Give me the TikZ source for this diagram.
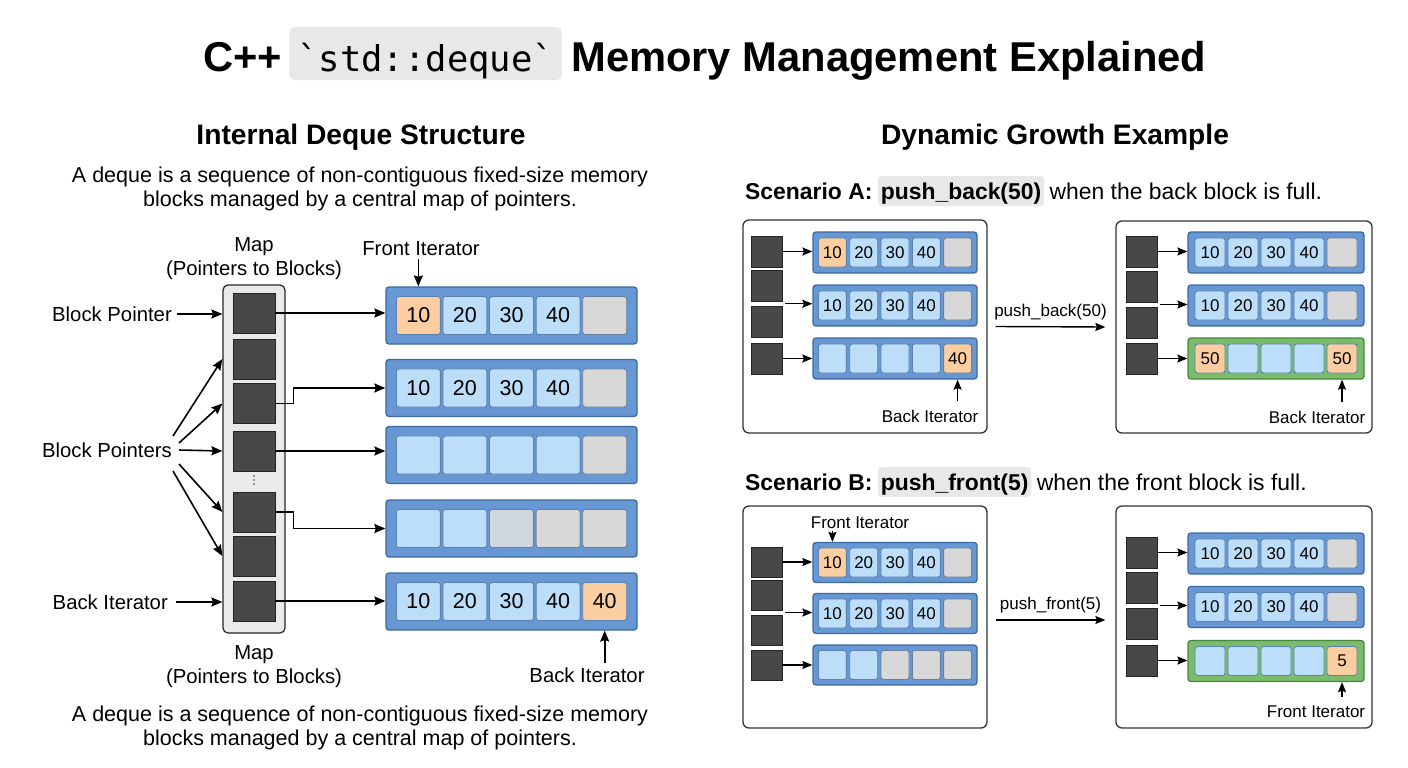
\documentclass[tikz,border=0pt]{standalone}
\usepackage{fontspec}
\setmainfont{Liberation Sans}
\setmonofont{DejaVu Sans Mono}
\usetikzlibrary{arrows.meta,calc}

\definecolor{blkfill}{RGB}{104,152,212}
\definecolor{blkdraw}{RGB}{62,104,160}
\definecolor{cellblue}{RGB}{188,222,248}
\definecolor{celldraw}{RGB}{92,130,178}
\definecolor{cellorange}{RGB}{250,206,160}
\definecolor{cellgray}{RGB}{216,216,216}
\definecolor{cellgrayb}{RGB}{208,214,224}
\definecolor{grnfill}{RGB}{122,188,108}
\definecolor{grndraw}{RGB}{70,135,60}
\definecolor{sqfill}{RGB}{72,72,72}
\definecolor{sqdraw}{RGB}{35,35,35}
\definecolor{mapfill}{RGB}{234,234,234}
\definecolor{codebg}{RGB}{232,232,232}

\tikzset{
 blk/.style={draw=blkdraw, fill=blkfill, line width=1.3pt, rounded corners=3pt, inner sep=0},
 gblk/.style={draw=grndraw, fill=grnfill, line width=1.3pt, rounded corners=3pt, inner sep=0},
 cb/.style={draw=celldraw, fill=cellblue, line width=0.9pt, rounded corners=2.5pt, inner sep=0},
 co/.style={cb, fill=cellorange},
 cg/.style={cb, fill=cellgray, draw=celldraw!60!gray},
 cgb/.style={cb, fill=cellgrayb},
 sq/.style={draw=sqdraw, fill=sqfill, line width=0.9pt, inner sep=0},
 arr/.style={-{Stealth[length=11pt,width=9pt,inset=1.5pt]}, line width=1.6pt, black},
 sarr/.style={-{Stealth[length=10pt,width=8pt,inset=1.5pt]}, line width=1.4pt, black},
 panel/.style={draw=black!80, line width=1.3pt, rounded corners=6pt, fill=white, inner sep=0},
 lbl/.style={font=\fontsize{20.3}{24}\selectfont, inner sep=0},
 slbl/.style={font=\fontsize{17}{19}\selectfont, inner sep=0},
 ttl/.style={font=\bfseries\fontsize{41.7}{50}\selectfont, inner sep=0},
 codettl/.style={fill=codebg, rounded corners=5pt, font=\ttfamily\fontsize{35.5}{40}\selectfont, inner xsep=8pt, inner ysep=6pt, text height=38pt, text depth=3pt},
 hdg/.style={font=\bfseries\fontsize{28.2}{32}\selectfont, inner sep=0},
 dsc/.style={font=\fontsize{21.5}{23.5}\selectfont, align=center, inner sep=0},
 scn/.style={font=\fontsize{22.9}{26}\selectfont, inner sep=0},
 codehl/.style={scn, fill=codebg, rounded corners=4pt, inner xsep=3pt, inner ysep=5pt, text height=18pt, text depth=2pt},
}

\newcommand\geomL{\def\dqbw{251}\def\dqbh{57}\def\dqcw{44}\def\dqch{38}\def\dqcp{46.6}\def\dqcf{\fontsize{21.5}{22}\selectfont}}
\newcommand\geomS{\def\dqbw{164}\def\dqbh{41}\def\dqcw{28}\def\dqch{29}\def\dqcp{31.3}\def\dqcf{\fontsize{17}{18}\selectfont}}
\newcommand\geomT{\def\dqbw{176}\def\dqbh{41}\def\dqcw{30}\def\dqch{29}\def\dqcp{33}\def\dqcf{\fontsize{17}{18}\selectfont}}

\newcommand\drawblock[5]{%
 \node[#4, minimum width=\dqbw pt, minimum height=\dqbh pt] (#1) at (#2,#3) {};
 \foreach \st/\tx [count=\i] in {#5} {
   \node[style=\st, minimum width=\dqcw pt, minimum height=\dqch pt, font=\dqcf] (#1-\i) at ($(#1.center)+({(\i-3)*\dqcp},0)$) {\tx};
 }}

\begin{document}
\begin{tikzpicture}[x=1pt,y=-1pt]
\useasboundingbox (0,0) rectangle (1408,768);
\fill[white] (0,0) rectangle (1408,768);

% ---- title
\node[ttl, anchor=base west] (t1) at (203,71) {C++};
\node[codettl, anchor=base west] (t2) at ($(t1.base east)+(7,0)$) {`std::deque`};
\node[ttl, anchor=base west] (t3) at ($(t2.base east)+(9,0)$) {Memory Management Explained};

% ---- headings
\node[hdg] (h1) at (361,137) {Internal Deque Structure};
\node[hdg] (h2) at (1055,137) {Dynamic Growth Example};
\node[dsc] (d1) at (360,189) {A deque is a sequence of non-contiguous fixed-size memory\\blocks managed by a central map of pointers.};
\node[dsc] (d2) at (360,728) {A deque is a sequence of non-contiguous fixed-size memory\\blocks managed by a central map of pointers.};

% ---- map
\node[lbl, align=center] (mapT) at (254,259) {Map\\(Pointers to Blocks)};
\node[lbl, align=center] (mapB) at (254,667) {Map\\(Pointers to Blocks)};
\node[draw=black!85, fill=mapfill, rounded corners=5pt, minimum width=62pt, minimum height=348pt, line width=1.2pt] (map) at (254,459) {};
\foreach \n/\yy in {1/313,2/359,3/403.5,4/451,5/512,6/556,7/601}
  \node[sq, minimum width=42pt, minimum height=40pt] (m\n) at (254,\yy) {};
\foreach \yy in {476,480,484} \fill[black!70] (254,\yy) circle (0.9pt);

% ---- left blocks
\geomL
\drawblock{b1}{511.5}{315.5}{blk}{co/10,cb/20,cb/30,cb/40,cg/{}}
\drawblock{b2}{511.5}{388}{blk}{cb/10,cb/20,cb/30,cb/40,cg/{}}
\drawblock{b3}{511.5}{455}{blk}{cb/{},cb/{},cb/{},cb/{},cg/{}}
\drawblock{b4}{511.5}{528.5}{blk}{cb/{},cb/{},cgb/{},cg/{},cg/{}}
\drawblock{b5}{511.5}{601.5}{blk}{cb/10,cb/20,cb/30,cb/40,co/40}

\draw[arr] (m1.east) -- (m1.east -| b1.west);
\draw[arr] (m3.east) -- ++(18,0) |- (b2.west);
\draw[arr] (m4.east) -- (m4.east -| b3.west);
\draw[arr] (m5.east) -- ++(18,0) |- (b4.west);
\draw[arr] (m7.east) -- (m7.east -| b5.west);

% ---- left labels
\node[lbl, anchor=east] (lBP) at (172,314) {Block Pointer};
\draw[arr] ($(lBP.east)+(5,0)$) -- (lBP.east -| map.west);
\node[lbl, anchor=east] (lBPs) at (172,450) {Block Pointers};
\draw[arr] ($(lBPs.east)+(1,-14)$) -- (map.west |- m2);
\draw[arr] ($(lBPs.east)+(7,-7)$) -- (map.west |- m3);
\draw[arr] ($(lBPs.east)+(7,0)$) -- (map.west |- m4);
\draw[arr] ($(lBPs.east)+(7,14)$) -- (map.west |- m5);
\draw[arr] ($(lBPs.east)+(1,21)$) -- (map.west |- m6);
\node[lbl, anchor=east] (lBI) at (168,602) {Back Iterator};
\draw[arr] ($(lBI.east)+(8,0)$) -- (lBI.east -| map.west);

\node[lbl] (fi) at (421,249) {Front Iterator};
\draw[arr] ($(fi.south -| b1-1)+(0,3)$) -- (b1-1 |- b1.north);
\node[lbl] (bi) at (587,675) {Back Iterator};
\draw[arr] ($(bi.north -| b5-5)+(0,-4)$) -- (b5-5 |- b5.south);

% ---- scenario headers
\node[scn, anchor=base west] (sa1) at (745,199) {\bfseries Scenario A:};
\node[codehl, anchor=base west] (sa2) at ($(sa1.base east)+(5,0)$) {\bfseries push\_back(50)};
\node[scn, anchor=base west] (sa3) at ($(sa2.base east)+(5,0)$) {when the back block is full.};
\node[scn, anchor=base west] (sb1) at (745,490) {\bfseries Scenario B:};
\node[codehl, anchor=base west] (sb2) at ($(sb1.base east)+(5,0)$) {\bfseries push\_front(5)};
\node[scn, anchor=base west] (sb3) at ($(sb2.base east)+(5,0)$) {when the front block is full.};

% ---- panels
\node[panel, minimum width=244pt, minimum height=213pt] (pA1) at (865,326.5) {};
\node[panel, minimum width=256pt, minimum height=212pt] (pA2) at (1244,327) {};
\node[panel, minimum width=244pt, minimum height=222pt] (pB1) at (865,617) {};
\node[panel, minimum width=256pt, minimum height=222pt] (pB2) at (1244,617) {};

\draw[sarr] ($(pA1.east)+(8,0)$) -- ($(pA2.west)+(-10,0)$) node[midway, above=6pt, slbl] (ta) {push\_back(50)};
\draw[sarr] ($(pB1.east)+(8,3)$) -- ($(pB2.west)+(-10,3)$) node[midway, above=6pt, slbl] (tb) {push\_front(5)};

% ---- panel A1
\foreach \n/\yy in {1/251.5,2/285.5,3/322,4/358.5}
  \node[sq, minimum size=31pt] (a1m\n) at (766.5,\yy) {};
\geomS
\drawblock{a1b1}{895}{252.5}{blk}{co/10,cb/20,cb/30,cb/40,cg/{}}
\drawblock{a1b2}{895}{305.5}{blk}{cb/10,cb/20,cb/30,cb/40,cg/{}}
\drawblock{a1b3}{895}{358.5}{blk}{cb/{},cb/{},cb/{},cb/{},co/40}
\draw[sarr] (a1m1.east) -- (a1m1.east -| a1b1.west);
\coordinate (a1mid) at ($(a1m2.south east)!0.5!(a1m3.north east)+(3,0)$);
\draw[sarr] (a1mid) -- (a1mid -| a1b2.west);
\draw[sarr] (a1m4.east) -- (a1m4.east -| a1b3.west);
\node[slbl] (a1bi) at (930,416) {Back Iterator};
\draw[sarr] ($(a1bi.north -| a1b3-5)+(0,-9)$) -- (a1b3-5 |- a1b3.south);

% ---- panel A2
\foreach \n/\yy in {1/251.5,2/286.5,3/322.5,4/358.5}
  \node[sq, minimum size=31pt] (a2m\n) at (1141.5,\yy) {};
\geomT
\drawblock{a2b1}{1276}{252.5}{blk}{cb/10,cb/20,cb/30,cb/40,cg/{}}
\drawblock{a2b2}{1276}{305.5}{blk}{cb/10,cb/20,cb/30,cb/40,cg/{}}
\drawblock{a2b3}{1276}{358.5}{gblk}{co/50,cb/{},cb/{},cb/{},co/50}
\draw[sarr] (a2m1.east) -- (a2m1.east -| a2b1.west);
\coordinate (a2mid) at ($(a2m2.south east)!0.5!(a2m3.north east)+(3,0)$);
\draw[sarr] (a2mid) -- (a2mid -| a2b2.west);
\draw[sarr] (a2m4.east) -- (a2m4.east -| a2b3.west);
\node[slbl] (a2bi) at (1317,417) {Back Iterator};
\draw[sarr] ($(a2bi.north -| a2b3-5)+(0,-9)$) -- (a2b3-5 |- a2b3.south);

% ---- panel B1
\foreach \n/\yy in {1/562,2/595,3/630,4/665}
  \node[sq, minimum width=31pt, minimum height=30pt] (b1m\n) at (766.5,\yy) {};
\geomS
\def\dqbh{40}
\drawblock{c1b1}{895}{562.5}{blk}{co/10,cb/20,cb/30,cb/40,cg/{}}
\drawblock{c1b2}{895}{613.5}{blk}{cb/10,cb/20,cb/30,cb/40,cg/{}}
\drawblock{c1b3}{895}{665}{blk}{cb/{},cb/{},cg/{},cg/{},cg/{}}
\draw[sarr] (b1m1.east) -- (b1m1.east -| c1b1.west);
\coordinate (b1mid) at ($(b1m2.south east)!0.5!(b1m3.north east)+(3,0)$);
\draw[sarr] (b1mid) -- (b1mid -| c1b2.west);
\draw[sarr] (b1m4.east) -- (b1m4.east -| c1b3.west);
\node[slbl] (b1fi) at (860,523) {Front Iterator};
\draw[sarr] ($(b1fi.south -| c1b1-1)+(0,2)$) -- (c1b1-1 |- c1b1.north);

% ---- panel B2
\foreach \n/\yy in {1/552.5,2/587.5,3/623.5,4/660.5}
  \node[sq, minimum size=31pt] (b2m\n) at (1141.5,\yy) {};
\geomT
\drawblock{c2b1}{1276}{553.5}{blk}{cb/10,cb/20,cb/30,cb/40,cg/{}}
\drawblock{c2b2}{1276}{607}{blk}{cb/10,cb/20,cb/30,cb/40,cg/{}}
\drawblock{c2b3}{1276}{661}{gblk}{cb/{},cb/{},cb/{},cb/{},co/5}
\draw[sarr] (b2m1.east) -- (b2m1.east -| c2b1.west);
\coordinate (b2mid) at ($(b2m2.south east)!0.5!(b2m3.north east)+(3,0)$);
\draw[sarr] (b2mid) -- (b2mid -| c2b2.west);
\draw[sarr] (b2m4.east) -- (b2m4.east -| c2b3.west);
\node[slbl] (b2fi) at (1316,712) {Front Iterator};
\draw[sarr] ($(b2fi.north -| c2b3-5)+(0,-9)$) -- (c2b3-5 |- c2b3.south);
\end{tikzpicture}
\end{document}
